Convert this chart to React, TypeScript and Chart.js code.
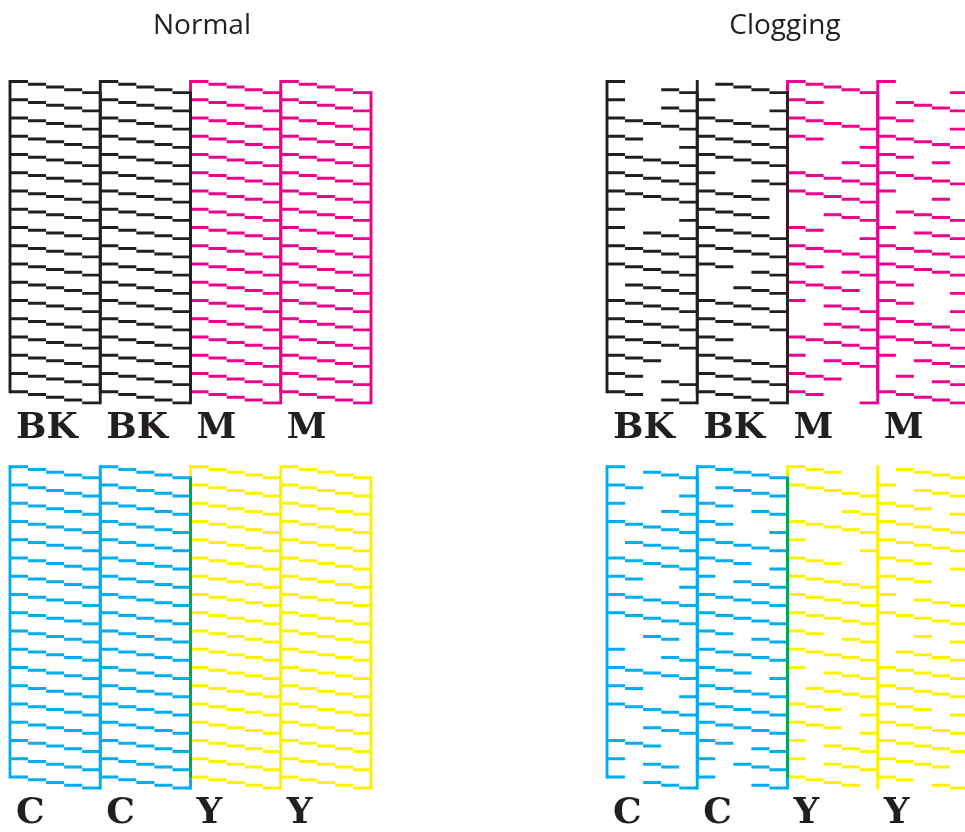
import React, { useEffect, useRef } from 'react';
import { Chart, registerables } from 'chart.js';

Chart.register(...registerables);

// ---------- data ----------
const PANEL_TITLES = ['Normal', 'Clogging'];
const TOP_LABELS = ['BK', 'BK', 'M', 'M'];
const BOTTOM_LABELS = ['C', 'C', 'Y', 'Y'];

// each row: 4 blocks x 5 nozzles, 1 = printed dash, 0 = missing
const NORMAL_TOP = [
  '11111 11111 11111 11111',
  '11111 11111 11111 11111',
  '11111 11111 11111 11111',
  '11111 11111 11111 11111',
  '11111 11111 11111 11111',
  '11111 11111 11111 11111',
  '11111 11111 11111 11111',
  '11111 11111 11111 11111',
  '11111 11111 11111 11111',
  '11111 11111 11111 11111',
  '11111 11111 11111 11111',
  '11111 11111 11111 11111',
  '11111 11111 11111 11111',
  '11111 11111 11111 11111',
  '11111 11111 11111 11111',
  '11111 11111 11111 11111',
  '11111 11111 11111 11111',
  '11111 11111 11111 11111',
];
const NORMAL_BOTTOM = [
  '11111 11111 11111 11111',
  '11111 11111 11111 11111',
  '11111 11111 11111 11111',
  '11111 11111 11111 11111',
  '11111 11111 11111 11111',
  '11111 11111 11111 11111',
  '11111 11111 11111 11111',
  '11111 11111 11111 11111',
  '11111 11111 11111 11111',
  '11111 11111 11111 11111',
  '11111 11111 11111 11111',
  '11111 11111 11111 11111',
  '11111 11111 11111 11111',
  '11111 11111 11111 11111',
  '11111 11111 11111 11111',
  '11111 11111 11111 11111',
  '11111 11111 11111 11111',
  '11111 11111 11111 11111',
];
const CLOGGING_TOP = [
  '10011 01111 11111 10001',
  '10011 10001 11000 01111',
  '11111 11111 11111 11001',
  '11001 11111 11001 11111',
  '11111 11111 00011 11010',
  '11111 10011 11111 11111',
  '11111 11110 11111 10010',
  '10001 11110 00111 01111',
  '10111 11111 11001 10111',
  '11111 11111 11111 11111',
  '11111 11011 11011 11111',
  '01111 00111 11110 11001',
  '11111 11111 10111 11001',
  '11111 11111 00111 11111',
  '11111 11000 11111 11111',
  '11100 11111 10111 10111',
  '11011 11111 11100 01011',
  '11011 11111 11001 11111',
];
const CLOGGING_BOTTOM = [
  '10111 11111 11100 01111',
  '11001 01111 11111 10111',
  '10011 11011 00011 11101',
  '11111 11001 11111 11111',
  '01111 11111 10001 11111',
  '11111 11101 11100 11101',
  '11001 10111 11111 11100',
  '11111 11111 11111 10111',
  '11111 11111 11111 11111',
  '00110 11011 11011 00101',
  '10011 11111 11111 01111',
  '11111 11101 10111 11111',
  '11001 11111 01111 11111',
  '11111 11111 11101 11101',
  '00111 11111 11101 11111',
  '11100 11011 10111 11111',
  '10110 10111 10111 11110',
  '10111 10011 11110 11011',
];

// ---------- styles / layout ----------
const BLACK = '#231f20';
const MAGENTA = '#ec008c';
const CYAN = '#00aeef';
const YELLOW = '#fff200';
const GREEN = '#00a651';
const TOP_COLORS = [BLACK, BLACK, MAGENTA, MAGENTA];
const BOTTOM_COLORS = [CYAN, CYAN, YELLOW, YELLOW];

const H = 832;
const DASHES = 5;
const DROP = 0.152; // rows per dash step
const BOTTOM_OFFSET = 21.107; // rows between top and bottom pattern
const PX_X = 18.05; // px per dash
const PX_Y = 18.25; // px per row
const FIRST_ROW_PX = 81.5;
const TITLE_SIZE = 28;
const TITLE_PAD = 9;
const LINE_W = 2.9;
const LABEL_SIZE = 36;
const LABEL_ROW = 19.55;
const LABEL_DX = 0.33;

function buildDatasets(rows: string[], colors: string[], yOff: number, overlapColor: string | null) {
  const out: any[] = [];
  const last = rows.length - 1;
  if (overlapColor) {
    const ox = 2 * DASHES;
    out.push({
      data: [{ x: ox, y: yOff + 4 * DROP }, { x: ox, y: yOff + last }],
      borderColor: overlapColor,
      borderCapStyle: 'butt',
    });
  }
  colors.forEach((color, b) => {
    const x0 = b * DASHES;
    const dashes: any[] = [];
    rows.forEach((row, k) => {
      const bits = row.split(' ')[b];
      for (let j = 0; j < DASHES; j++) {
        if (bits[j] === '1') {
          const y = yOff + k + j * DROP;
          dashes.push({ x: x0 + j, y }, { x: x0 + j + 1, y }, { x: x0 + j + 1, y: null });
        }
      }
    });
    out.push({ data: dashes, borderColor: color });
    out.push({
      data: [{ x: x0, y: yOff }, { x: x0, y: yOff + last }],
      borderColor: color,
      borderCapStyle: 'square',
    });
    out.push({
      data: [{ x: x0 + DASHES, y: yOff + 4 * DROP }, { x: x0 + DASHES, y: yOff + last + 4 * DROP }],
      borderColor: color,
      borderCapStyle: 'square',
    });
  });
  return out;
}

function Panel({ title, top, bottom, left, width, inset }: any) {
  const ref = useRef<HTMLCanvasElement | null>(null);
  useEffect(() => {
    if (!ref.current) return;
    const titleBox = TITLE_PAD + TITLE_SIZE * 1.2;
    const yMin = -(FIRST_ROW_PX - titleBox) / PX_Y;
    const yMax = yMin + (H - titleBox) / PX_Y;
    const xMin = -inset / PX_X;
    const xMax = xMin + width / PX_X;

    const labelPlugin = {
      id: 'nozzleLabels',
      afterDatasetsDraw(chart: any) {
        const { ctx, scales } = chart;
        ctx.save();
        ctx.font = `bold ${LABEL_SIZE}px "DejaVu Serif"`;
        ctx.fillStyle = BLACK;
        ctx.textAlign = 'left';
        ctx.textBaseline = 'alphabetic';
        const groups: [string[], number][] = [
          [TOP_LABELS, 0],
          [BOTTOM_LABELS, BOTTOM_OFFSET],
        ];
        groups.forEach(([labels, off]) => {
          labels.forEach((t, b) => {
            ctx.fillText(
              t,
              scales.x.getPixelForValue(b * DASHES + LABEL_DX),
              scales.y.getPixelForValue(off + LABEL_ROW)
            );
          });
        });
        ctx.restore();
      },
    };

    const datasets = [
      ...buildDatasets(top, TOP_COLORS, 0, null),
      ...buildDatasets(bottom, BOTTOM_COLORS, BOTTOM_OFFSET, GREEN),
    ];

    const chart = new Chart(ref.current, {
      type: 'line',
      data: { datasets },
      options: {
        responsive: false,
        animation: false,
        events: [],
        layout: { padding: 0 },
        elements: {
          line: { borderWidth: LINE_W, tension: 0, fill: false, borderCapStyle: 'butt', borderJoinStyle: 'miter' },
          point: { radius: 0, hitRadius: 0, hoverRadius: 0 },
        },
        scales: {
          x: { type: 'linear', display: false, min: xMin, max: xMax },
          y: { type: 'linear', display: false, reverse: true, min: yMin, max: yMax },
        },
        plugins: {
          legend: { display: false },
          tooltip: { enabled: false },
          title: {
            display: true,
            text: title,
            color: BLACK,
            font: { family: '"Open Sans", "Noto Sans", sans-serif', size: TITLE_SIZE, weight: 'normal', lineHeight: 1.2 },
            padding: { top: TITLE_PAD, bottom: 0 },
          },
        },
      } as any,
      plugins: [labelPlugin],
    });
    return () => chart.destroy();
  }, []);
  return (
    <canvas
      ref={ref}
      width={width}
      height={H}
      style={{ position: 'absolute', left, top: 0, width, height: H, display: 'block' }}
    />
  );
}

export default function App() {
  return (
    <div style={{ position: 'absolute', left: 0, top: 0, width: 965, height: H, background: '#ffffff', overflow: 'hidden' }}>
      <Panel title={PANEL_TITLES[0]} top={NORMAL_TOP} bottom={NORMAL_BOTTOM} left={0} width={404} inset={10} />
      <Panel title={PANEL_TITLES[1]} top={CLOGGING_TOP} bottom={CLOGGING_BOTTOM} left={605} width={360} inset={2} />
    </div>
  );
}
